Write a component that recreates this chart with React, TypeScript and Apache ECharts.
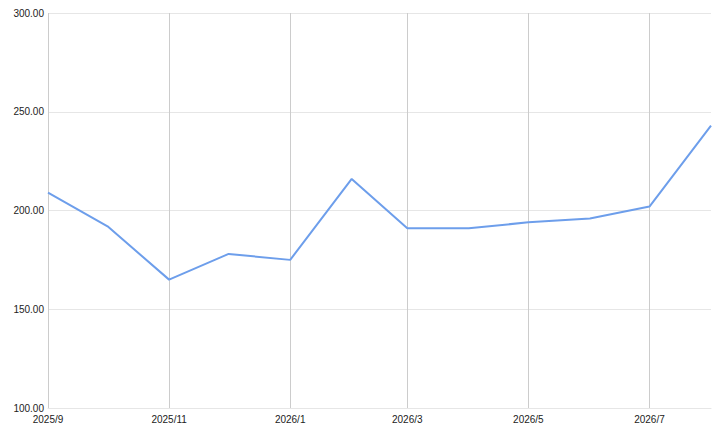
import React, { useEffect, useRef } from "react";
import * as echarts from "echarts";

const dates = [
  "2025-09-01", "2025-10-01", "2025-11-01", "2025-12-01", "2026-01-01", "2026-02-01",
  "2026-03-01", "2026-04-01", "2026-05-01", "2026-06-01", "2026-07-01", "2026-08-01",
];
const values = [209, 192, 165, 178, 175, 216, 191, 191, 194, 196, 202, 243];
const yMin = 100;
const yMax = 300;
const yInterval = 50;

export default function App() {
  const ref = useRef<HTMLDivElement>(null);
  useEffect(() => {
    if (!ref.current) return;
    const chart = echarts.init(ref.current, undefined, { renderer: "svg" });
    chart.setOption({
      animation: false,
      grid: { left: 48, right: 17, top: 13, bottom: 28, containLabel: false },
      xAxis: {
        type: "time",
        min: new Date(dates[0] + "T00:00:00").getTime(),
        max: new Date(dates[dates.length - 1] + "T00:00:00").getTime(),
        splitNumber: 5,
        axisLine: { show: true, lineStyle: { color: "#e6e6e6" } },
        axisTick: { show: false },
        axisLabel: {
          formatter: "{yyyy}/{M}",
          color: "#222222",
          fontSize: 10,
          fontFamily: "Liberation Sans, Arial, sans-serif",
          margin: 6,
          showMaxLabel: false,
        },
        splitLine: { show: true, showMaxLine: false, lineStyle: { color: "#cccccc", width: 1 } },
      },
      yAxis: {
        type: "value",
        min: yMin,
        max: yMax,
        interval: yInterval,
        axisLine: { show: false },
        axisTick: { show: false },
        axisLabel: {
          formatter: (v: number) => v.toFixed(2),
          color: "#222222",
          fontSize: 10,
          fontFamily: "Liberation Sans, Arial, sans-serif",
          margin: 4,
        },
        splitLine: { show: true, lineStyle: { color: "#e6e6e6", width: 1 } },
      },
      series: [
        {
          type: "line",
          data: dates.map((d, i) => [new Date(d + "T00:00:00").getTime(), values[i]]),
          showSymbol: false,
          symbol: "none",
          lineStyle: { color: "#6d9eeb", width: 2 },
        },
      ],
    });
    return () => chart.dispose();
  }, []);
  return <div ref={ref} style={{ width: 728, height: 436, position: "absolute", left: 0, top: 0 }} />;
}
